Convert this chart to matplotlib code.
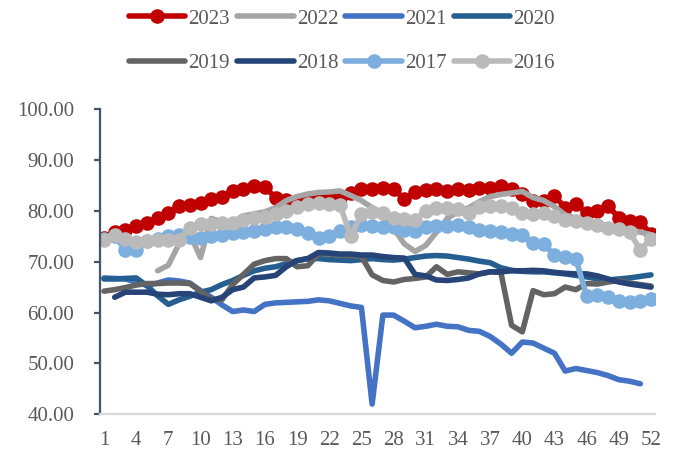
import numpy as np
import matplotlib
matplotlib.use("Agg")
import matplotlib.pyplot as plt

nan = np.nan
weeks = list(range(1, 53))
x_ticks = list(range(1, 53, 3))
y_ticks = [40, 50, 60, 70, 80, 90, 100]

y2023 = [74.7, 75.8, 76.2, 77.0, 77.6, 78.5, 79.6, 80.9, 81.2, 81.6,
         82.3, 82.8, 83.8, 84.3, 84.8, 84.6, 82.6, 82.2, 82.0, 82.2,
         82.4, 82.5, 82.6, 83.5, 84.2, 84.3, 84.4, 84.3, 82.3, 83.6,
         84.0, 84.3, 83.9, 84.2, 84.0, 84.4, 84.5, 84.8, 84.2, 83.3,
         82.0, 82.0, 82.9, 80.6, 81.3, 79.6, 80.0, 81.0, 78.6, 78.0,
         77.7, 75.5]
y2022 = [nan, nan, nan, nan, nan, 68.2, 69.3, 73.5, 75.5, 70.8,
         78.5, 77.8, 77.8, 79.0, 79.4, 79.8, 80.6, 82.0, 82.8, 83.3,
         83.6, 83.7, 83.9, 83.0, 82.0, 80.6, 79.5, 76.5, 73.5, 72.0,
         73.2, 75.8, 78.5, 79.8, 80.6, 81.8, 82.8, 83.2, 83.5, 83.8,
         82.6, 82.0, 80.8, 79.2, 78.5, 78.0, 77.5, 77.0, 76.6, 76.2,
         75.8, 75.3]
y2021 = [66.8, 66.7, 66.6, 66.0, 65.3, 65.8, 66.4, 66.2, 65.8, 64.3,
         63.0, 61.5, 60.2, 60.5, 60.2, 61.6, 61.9, 62.0, 62.1, 62.2,
         62.5, 62.3, 61.8, 61.3, 61.0, 42.0, 59.5, 59.5, 58.3, 57.0,
         57.3, 57.7, 57.3, 57.2, 56.5, 56.3, 55.3, 53.8, 52.0, 54.2,
         54.0, 53.0, 52.0, 48.5, 49.0, 48.6, 48.2, 47.6, 46.8, 46.5,
         46.0, nan]
y2020 = [66.6, 66.6, 66.7, 66.8, 65.3, 63.3, 61.6, 62.5, 63.2, 64.0,
         64.5, 65.5, 66.3, 67.3, 68.2, 68.7, 69.0, 69.6, 70.2, 70.6,
         70.6, 70.4, 70.3, 70.2, 70.4, 70.6, 70.4, 70.3, 70.5, 70.8,
         71.1, 71.2, 71.1, 70.8, 70.5, 70.1, 69.8, 68.8, 68.3, 68.1,
         68.0, 68.0, 67.8, 67.6, 67.3, 67.0, 66.6, 66.4, 66.6, 66.8,
         67.1, 67.4]
y2019 = [64.2, 64.5, 64.9, 65.4, 65.7, 65.7, 65.8, 65.8, 65.7, 64.2,
         62.6, 62.5, 65.5, 67.5, 69.5, 70.2, 70.6, 70.6, 69.0, 69.2,
         71.5, 71.5, 71.3, 71.2, 71.0, 67.4, 66.3, 66.0, 66.5, 66.7,
         67.0, 69.0, 67.5, 68.0, 67.8, 67.6, 68.0, 67.9, 57.5, 56.2,
         64.3, 63.5, 63.7, 65.0, 64.5, 65.7, 65.6, 66.0, 66.3, 65.8,
         65.5, 65.2]
y2018 = [nan, 63.0, 64.0, 64.0, 64.0, 63.6, 63.5, 63.7, 63.7, 63.0,
         62.3, 63.0, 64.5, 65.0, 66.8, 67.0, 67.3, 69.0, 70.2, 70.6,
         71.8, 71.7, 71.5, 71.5, 71.3, 71.3, 71.0, 70.8, 70.7, 67.5,
         67.2, 66.4, 66.3, 66.5, 66.8, 67.6, 68.0, 68.0, 68.2, 68.2,
         68.3, 68.2, 67.9, 67.7, 67.6, 67.6, 67.2, 66.6, 66.0, 65.6,
         65.3, 65.0]
y2017 = [74.5, 75.0, 72.3, 72.3, 74.0, 74.5, 75.0, 75.2, 74.8, 74.7,
         75.0, 75.3, 75.6, 75.8, 76.0, 76.5, 76.8, 76.8, 76.5, 75.7,
         74.6, 75.0, 76.0, 76.8, 77.2, 77.0, 76.8, 76.8, 76.2, 76.0,
         76.8, 77.0, 77.0, 77.3, 76.8, 76.2, 76.0, 75.8, 75.4, 75.2,
         73.6, 73.4, 71.3, 71.0, 70.5, 63.2, 63.5, 63.1, 62.2, 62.0,
         62.2, 62.6]
y2016 = [74.2, 75.3, 74.5, 73.8, 74.0, 74.2, 74.2, 74.2, 76.7, 77.4,
         77.4, 77.6, 77.6, 78.2, 78.5, 78.8, 79.4, 80.0, 80.8, 81.3,
         81.5, 81.3, 81.2, 75.0, 79.4, 79.8, 79.5, 78.5, 78.4, 78.2,
         80.0, 80.5, 80.5, 80.3, 79.6, 80.8, 81.0, 81.0, 80.6, 79.6,
         79.4, 79.6, 79.0, 78.2, 78.0, 77.6, 77.2, 76.7, 76.5, 75.8,
         72.3, 74.5]

# (label, values, colour, marker)
series = [
    ("2023", y2023, "#C00000", "o"),
    ("2022", y2022, "#A5A5A5", None),
    ("2021", y2021, "#4472C4", None),
    ("2020", y2020, "#255E91", None),
    ("2019", y2019, "#636363", None),
    ("2018", y2018, "#264478", None),
    ("2017", y2017, "#7CAFDD", "o"),
    ("2016", y2016, "#BABABA", "o"),
]

text_color = "#595959"
plt.rcParams["font.family"] = ["Liberation Serif", "DejaVu Serif"]

fig = plt.figure(figsize=(6.81, 4.54), dpi=100)
W, H = 681, 454
ax = fig.add_axes([100 / W, 1 - 414.3 / H, 555 / W, (414.3 - 109) / H])

lines = []
for label, vals, color, marker in series:
    ln, = ax.plot(weeks, vals, color=color, lw=4, marker=marker, markersize=10.5,
                  markeredgewidth=0, solid_joinstyle="round",
                  solid_capstyle="round", label=label)
    lines.append(ln)

ax.set_xlim(0.63, 52.37)
ax.set_ylim(40, 100)
ax.set_xticks(x_ticks)
ax.set_yticks(y_ticks)
ax.set_yticklabels([f"{v:.2f}" for v in y_ticks])

for side in ["top", "right"]:
    ax.spines[side].set_visible(False)
ax.spines["left"].set_color("#44546A")
ax.spines["left"].set_linewidth(1.6)
ax.spines["bottom"].set_color("#D9D9D9")
ax.spines["bottom"].set_linewidth(1.6)

ax.tick_params(axis="y", length=4.5, width=1.6, color="#44546A", pad=14,
               labelsize=15, labelcolor=text_color)
ax.tick_params(axis="x", length=0, pad=12, labelsize=15, labelcolor=text_color)

# legend fills column-wise, so interleave to get two rows of four
order = [0, 4, 1, 5, 2, 6, 3, 7]
leg = fig.legend([lines[i] for i in order], [series[i][0] for i in order],
                 loc="upper left", bbox_to_anchor=(129 / W, 1 - 9 / H), ncol=4,
                 frameon=False, fontsize=15, handlelength=2.7, handletextpad=0.15,
                 columnspacing=0.35, labelspacing=1.2, borderpad=0,
                 borderaxespad=0)
for t in leg.get_texts():
    t.set_color(text_color)

fig.savefig("out.png", dpi=100)
